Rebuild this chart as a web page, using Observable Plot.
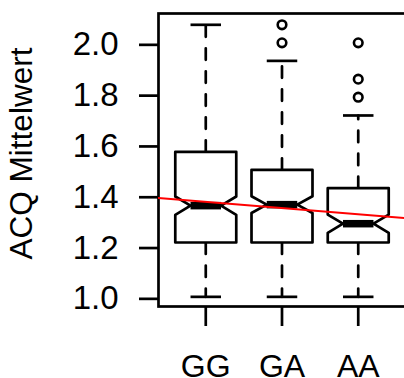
<!DOCTYPE html>
<html>
<head>
<meta charset="utf-8">
<script src="https://cdn.jsdelivr.net/npm/d3@7"></script>
<script src="https://cdn.jsdelivr.net/npm/@observablehq/plot@0.6"></script>
<style>
  html, body { margin: 0; padding: 0; background: white; overflow: hidden; }
  #chart svg { display: block; }
</style>
</head>
<body>
<div id="chart"></div>
<script>
// ---- data ----
const groups = ["GG", "GA", "AA"];
const lowerWhisker = [1.0, 1.0, 1.0];
const q1 = [1.214, 1.214, 1.214];
const median = [1.359, 1.363, 1.288];
const q3 = [1.571, 1.500, 1.428];
const upperWhisker = [2.071, 1.929, 1.714];
const notchHalf = [0.036, 0.033, 0.036];
const outlierGroup = ["GA", "GA", "AA", "AA", "AA"];
const outlierValue = [2.071, 2.0, 2.0, 1.857, 1.786];
const yTicks = [1.0, 1.2, 1.4, 1.6, 1.8, 2.0];
const yLabel = "ACQ Mittelwert";
const fitIntercept = 1.3983;
const fitSlope = -0.0245;

// ---- derived tables ----
const xDomain = [0.38, 3.62];
const yDomain = [0.962, 2.1155];
const halfW = 0.4;
const stats = groups.map((g, i) => ({
  g, pos: i + 1, lo: lowerWhisker[i], q1: q1[i], med: median[i], q3: q3[i],
  hi: upperWhisker[i], n: notchHalf[i]
}));
const boxPath = [];
for (const s of stats) {
  const c = s.pos, w = halfW;
  const pts = [
    [c - w, s.q3], [c + w, s.q3], [c + w, s.med + s.n], [c + w / 2, s.med],
    [c + w, s.med - s.n], [c + w, s.q1], [c - w, s.q1], [c - w, s.med - s.n],
    [c - w / 2, s.med], [c - w, s.med + s.n], [c - w, s.q3]
  ];
  for (const [x, y] of pts) boxPath.push({g: s.g, x, y});
}
const outliers = outlierGroup.map((g, i) => ({x: groups.indexOf(g) + 1, y: outlierValue[i]}));
const fitLine = xDomain.map(x => ({x, y: fitIntercept + fitSlope * x}));

const font = "'Liberation Sans', Arial, Helvetica, sans-serif";
const lw = 2.7;

const chart = Plot.plot({
  width: 404,
  height: 378,
  marginLeft: 158,
  marginRight: -1,
  marginTop: 13,
  marginBottom: 72,
  style: {fontFamily: font, color: "black", background: "white", overflow: "hidden"},
  x: {type: "linear", domain: xDomain},
  y: {domain: yDomain},
  marks: [
    Plot.frame({stroke: "black", strokeWidth: lw}),
    Plot.axisY({
      ticks: yTicks, tickSize: 19, tickPadding: 21, strokeWidth: lw,
      tickFormat: d => d.toFixed(1), fontSize: 33, dy: 2, label: null
    }),
    Plot.axisX({
      ticks: [1, 2, 3], tickSize: 20, tickPadding: 28, strokeWidth: lw,
      tickFormat: d => groups[d - 1], fontSize: 32, label: null
    }),
    Plot.text([yLabel], {
      frameAnchor: "left", rotate: -90, dx: -127, dy: -6.5,
      lineAnchor: "bottom", textAnchor: "middle", fontSize: 31.5, fill: "black"
    }),
    // dashed whiskers (start at the box edge)
    Plot.link(stats, {x1: "pos", x2: "pos", y1: "q3", y2: "hi",
      stroke: "black", strokeWidth: lw, strokeDasharray: "11.5,11.5", strokeLinecap: "round"}),
    Plot.link(stats, {x1: "pos", x2: "pos", y1: "q1", y2: "lo",
      stroke: "black", strokeWidth: lw, strokeDasharray: "11.5,11.5", strokeLinecap: "round"}),
    // staples
    Plot.link(stats, {x1: d => d.pos - halfW / 2, x2: d => d.pos + halfW / 2, y1: "hi", y2: "hi",
      stroke: "black", strokeWidth: lw}),
    Plot.link(stats, {x1: d => d.pos - halfW / 2, x2: d => d.pos + halfW / 2, y1: "lo", y2: "lo",
      stroke: "black", strokeWidth: lw}),
    // notched boxes
    Plot.line(boxPath, {x: "x", y: "y", z: "g", stroke: "black", strokeWidth: lw,
      strokeLinejoin: "round", fill: "white", curve: "linear"}),
    // medians
    Plot.link(stats, {x1: d => d.pos - halfW / 2, x2: d => d.pos + halfW / 2, y1: "med", y2: "med",
      stroke: "black", strokeWidth: 7.5, strokeLinecap: "butt"}),
    // outliers
    Plot.dot(outliers, {x: "x", y: "y", r: 4.3, stroke: "black", strokeWidth: 2.6, fill: "none"}),
    // regression line
    Plot.line(fitLine, {x: "x", y: "y", stroke: "red", strokeWidth: 2, clip: true})
  ]
});
document.getElementById("chart").appendChild(chart);
</script>
</body>
</html>
